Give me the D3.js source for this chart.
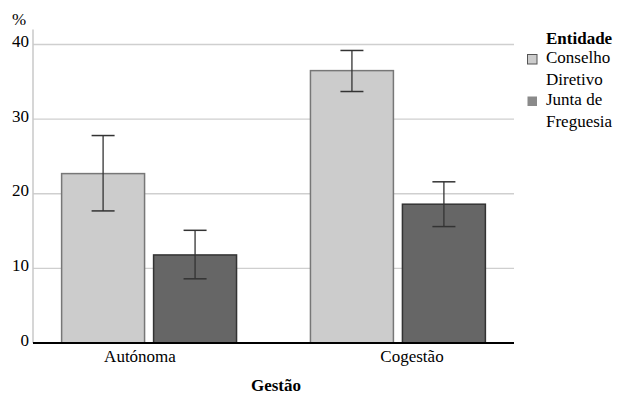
<!DOCTYPE html>
<html>
<head>
<meta charset="utf-8">
<script src="https://cdn.jsdelivr.net/npm/d3@7"></script>
<style>
  body { margin: 0; background: #fff; }
</style>
</head>
<body>
<div id="chart"></div>
<script>
// data
const groups = ['Autónoma', 'Cogestão']
const series = ['Conselho Diretivo', 'Junta de Freguesia']
const means = [[22.7, 11.8], [36.5, 18.6]]
const lower = [[17.7, 8.6], [33.7, 15.6]]
const upper = [[27.8, 15.1], [39.2, 21.6]]
const yTicks = [0, 10, 20, 30, 40]

const fills = ['#cccccc', '#666666']
const strokes = ['#777777', '#333333']

const width = 617, height = 396
const serif = "'Liberation Serif'"

const svg = d3.select('#chart')
  .append('svg')
  .attr('width', width)
  .attr('height', height)

const y = d3.scaleLinear()
  .domain([0, 40])
  .range([343, 44.5])

const x0 = d3.scaleBand()
  .domain(groups)
  .range([33, 514])
  .paddingInner(0.297)
  .paddingOuter(0.115)

const x1 = d3.scaleBand()
  .domain(series)
  .range([0, x0.bandwidth()])
  .paddingInner(0.098)

// label positions under the groups (they sit a bit off-centre in the original)
const xLabel = d3.scalePoint()
  .domain(groups)
  .range([140, 412])

// gridlines
svg.append('g')
  .selectAll('line')
  .data(yTicks.filter(d => d > 0))
  .enter()
  .append('line')
  .attr('x1', 33)
  .attr('x2', 514)
  .attr('y1', d => y(d))
  .attr('y2', d => y(d))
  .attr('stroke', '#cfcfcf')
  .attr('stroke-width', 1.3)

// left axis line
svg.append('line')
  .attr('x1', 33).attr('x2', 33)
  .attr('y1', y(42)).attr('y2', y(0))
  .attr('stroke', '#c8c8c8')
  .attr('stroke-width', 1.5)

// tick labels
svg.append('g')
  .selectAll('text')
  .data(yTicks)
  .enter()
  .append('text')
  .attr('x', 29)
  .attr('y', d => y(d) + 2.5)
  .attr('text-anchor', 'end')
  .style('font-family', serif)
  .style('font-size', '17px')
  .text(d => d)

svg.append('text')
  .attr('x', 12)
  .attr('y', 25)
  .style('font-family', serif)
  .style('font-size', '17px')
  .text('%')

// bars
const rows = []
groups.forEach((g, i) => {
  series.forEach((s, j) => {
    rows.push({ g: g, s: s, j: j, v: means[i][j], lo: lower[i][j], hi: upper[i][j] })
  })
})

const bar = svg.append('g')
  .selectAll('g')
  .data(rows)
  .enter()
  .append('g')
  .attr('transform', d => `translate(${x0(d.g) + x1(d.s)},0)`)

bar.append('rect')
  .attr('x', 0)
  .attr('width', x1.bandwidth())
  .attr('y', d => y(d.v))
  .attr('height', d => y(0) - y(d.v))
  .attr('fill', d => fills[d.j])
  .attr('stroke', d => strokes[d.j])
  .attr('stroke-width', 1.5)

// error bars
const cx = x1.bandwidth() / 2
bar.append('line')
  .attr('x1', cx).attr('x2', cx)
  .attr('y1', d => y(d.hi)).attr('y2', d => y(d.lo))
  .attr('stroke', '#333')
  .attr('stroke-width', 1.3)
bar.selectAll('.cap')
  .data(d => [d.hi, d.lo])
  .enter()
  .append('line')
  .attr('class', 'cap')
  .attr('x1', cx - 11.5).attr('x2', cx + 11.5)
  .attr('y1', d => y(d)).attr('y2', d => y(d))
  .attr('stroke', '#333')
  .attr('stroke-width', 1.5)

// baseline
svg.append('line')
  .attr('x1', 33).attr('x2', 514)
  .attr('y1', y(0)).attr('y2', y(0))
  .attr('stroke', '#000')
  .attr('stroke-width', 2)

// category labels
svg.append('g')
  .selectAll('text')
  .data(groups)
  .enter()
  .append('text')
  .attr('x', d => xLabel(d))
  .attr('y', 362)
  .attr('text-anchor', 'middle')
  .style('font-family', serif)
  .style('font-size', '17px')
  .text(d => d)

svg.append('text')
  .attr('x', 276)
  .attr('y', 391)
  .attr('text-anchor', 'middle')
  .style('font-family', serif)
  .style('font-size', '17px')
  .style('font-weight', 'bold')
  .text('Gestão')

// legend
const legend = svg.append('g').attr('transform', 'translate(527,0)')
legend.append('text')
  .attr('x', 19)
  .attr('y', 44)
  .style('font-family', serif)
  .style('font-size', '17px')
  .style('font-weight', 'bold')
  .text('Entidade')

const legendFills = ['#cccccc', '#8a8a8a']
const legendStrokes = ['#555555', 'none']
const legendLines = [['Conselho', 'Diretivo'], ['Junta de', 'Freguesia']]

series.forEach((s, j) => {
  const top = 54 + j * 42
  legend.append('rect')
    .attr('x', 0.5)
    .attr('y', top + 0.5)
    .attr('width', 9.5)
    .attr('height', 9.5)
    .attr('fill', legendFills[j])
    .attr('stroke', legendStrokes[j])
  legend.append('text')
    .attr('x', 19)
    .attr('y', top + 9)
    .style('font-family', serif)
    .style('font-size', '17px')
    .selectAll('tspan')
    .data(legendLines[j])
    .enter()
    .append('tspan')
    .attr('x', 19)
    .attr('dy', (d, k) => k === 0 ? 0 : 21.5)
    .text(d => d)
})
</script>
</body>
</html>
